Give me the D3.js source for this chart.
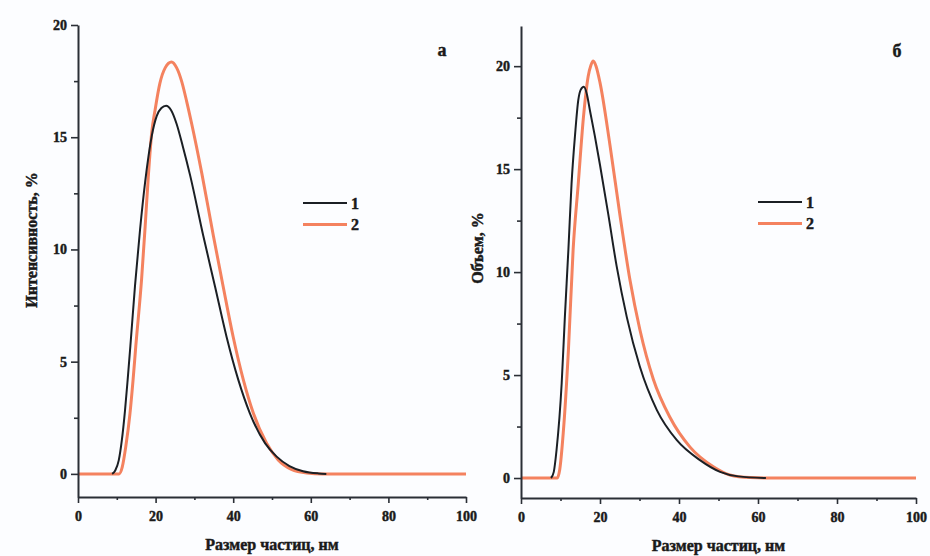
<!DOCTYPE html>
<html>
<head>
<meta charset="utf-8">
<script src="https://cdn.jsdelivr.net/npm/d3@7/dist/d3.min.js"></script>
<style>
  html, body { margin: 0; padding: 0; background: #fcfdff; }
  svg { display: block; }
  text { font-family: "Liberation Serif", "Times New Roman", serif; font-weight: bold; fill: #1a1a1a; stroke: #1a1a1a; stroke-width: 0.45px; }
</style>
</head>
<body>
<svg id="chart" width="930" height="556"></svg>
<script>
// Particle size distributions (DLS): intensity (а) and volume (б), samples 1 and 2.
const seriesNames = ["1", "2"];

// Panel а — intensity, %
const sizeA1 = [8.8, 9.6, 10.5, 11.3, 12.1, 12.8, 13.5, 14.7, 16.0, 17.3, 19.0, 20.3, 21.5, 22.7, 24.0, 25.4, 27.0, 28.9, 32.3, 35.3, 38.3, 41.3, 44.3, 48.2, 51.2, 54.5, 58.0, 62.0, 64.0];
const intensityA1 = [0, 0.15, 0.6, 1.5, 2.8, 4.2, 5.7, 8.4, 10.9, 13.0, 15.05, 15.95, 16.3, 16.4, 16.2, 15.6, 14.6, 13.3, 10.6, 8.36, 6.1, 4.2, 2.7, 1.37, 0.77, 0.35, 0.12, 0.02, 0];
const sizeA2 = [0, 10.6, 11.4, 12.3, 13.4, 14.2, 14.9, 16.4, 17.3, 18.1, 19.0, 19.9, 21.1, 22.5, 24.1, 25.4, 26.7, 28.0, 29.3, 31.9, 34.9, 37.4, 40.0, 42.6, 45.2, 48.6, 51.6, 55.0, 59.0, 63.0, 100];
const intensityA2 = [0, 0, 0.3, 1.2, 2.7, 4.2, 5.7, 8.7, 11.0, 13.2, 15.2, 16.25, 17.4, 18.1, 18.35, 18.1, 17.5, 16.6, 15.6, 13.4, 10.6, 8.36, 6.1, 4.2, 2.7, 1.37, 0.62, 0.2, 0.04, 0, 0];

// Panel б — volume, %
const sizeB1 = [7.6, 8.3, 9.0, 10.3, 11.1, 12.0, 12.8, 13.7, 14.5, 15.1, 15.9, 16.6, 17.5, 18.7, 20.0, 22.1, 24.2, 26.8, 30.1, 34.4, 39.4, 45.3, 50.4, 55.0, 62.0];
const volumeB1 = [0, 0.3, 1.36, 4.6, 7.8, 11.1, 14.3, 16.7, 18.35, 18.85, 19.0, 18.7, 17.8, 16.6, 15.2, 12.8, 10.3, 7.8, 5.4, 3.3, 1.85, 0.87, 0.3, 0.08, 0];
const sizeB2 = [0, 9.2, 9.8, 10.7, 12.0, 13.2, 14.5, 15.8, 17.0, 17.7, 18.3, 19.0, 20.0, 22.5, 25.1, 27.6, 30.1, 33.5, 37.7, 42.8, 48.7, 52.9, 58.0, 62.0, 100];
const volumeB2 = [0, 0, 0.4, 2.2, 6.2, 11.1, 14.3, 17.5, 19.5, 20.05, 20.25, 20.0, 19.2, 16.2, 12.7, 9.6, 7.2, 4.8, 2.95, 1.5, 0.55, 0.15, 0.02, 0, 0];

const xTicks = [0, 20, 40, 60, 80, 100];
const xMinorTicks = [10, 30, 50, 70, 90];
const yTicks = [0, 5, 10, 15, 20];
const yMinorTicks = [2.5, 7.5, 12.5, 17.5];

const xTitle = "Размер частиц, нм";
const colors = ["#1b1f24", "#f4825f"];

const svg = d3.select("#chart");

const panels = [
  { box: { left: 78, right: 466, top: 25, bottom: 497 }, yDomain: [-1.03, 20],
    yTitle: "Интенсивность, %", tag: "а", yTitlePos: [31, 240], tagPos: [442, 56],
    legendPos: [303, 203], tickPad: 4,
    series: [[sizeA1, intensityA1], [sizeA2, intensityA2]] },
  { box: { left: 521, right: 916, top: 26, bottom: 498 }, yDomain: [-0.97, 21.95],
    yTitle: "Объем, %", tag: "б", yTitlePos: [477, 248], tagPos: [897, 57],
    legendPos: [758, 202], tickPad: 4,
    series: [[sizeB1, volumeB1], [sizeB2, volumeB2]] }
];

panels.forEach(p => {
  const b = p.box;
  const x = d3.scaleLinear().domain([0, 100]).range([b.left, b.right]);
  const y = d3.scaleLinear().domain(p.yDomain).range([b.bottom, b.top]);
  const g = svg.append("g");

  // curves: sample 2 underneath, sample 1 on top
  const line = d3.line().x(d => x(d[0])).y(d => y(d[1])).curve(d3.curveMonotoneX);
  [1, 0].forEach(i => {
    const [xs, ys] = p.series[i];
    g.append("path")
      .datum(xs.map((v, k) => [v, ys[k]]))
      .attr("fill", "none")
      .attr("stroke", colors[i])
      .attr("stroke-width", i === 1 ? 3 : 2)
      .attr("stroke-linejoin", "round")
      .attr("d", line);
  });

  // x axis
  g.append("g").attr("transform", `translate(0,${b.bottom})`)
    .call(d3.axisBottom(x).tickValues(xTicks).tickSize(6).tickSizeOuter(0).tickPadding(8).tickFormat(d3.format("d")));
  g.append("g").attr("transform", `translate(0,${b.bottom})`)
    .call(d3.axisBottom(x).tickValues(xMinorTicks).tickSize(3).tickSizeOuter(0).tickFormat(""))
    .select(".domain").remove();

  // y axis
  g.append("g").attr("transform", `translate(${b.left},0)`)
    .call(d3.axisLeft(y).tickValues(yTicks).tickSize(7).tickSizeOuter(0).tickPadding(p.tickPad).tickFormat(d3.format("d")));
  g.append("g").attr("transform", `translate(${b.left},0)`)
    .call(d3.axisLeft(y).tickValues(yMinorTicks).tickSize(4).tickSizeOuter(0).tickFormat(""))
    .select(".domain").remove();

  g.selectAll(".domain").attr("stroke", "#2a2f36").attr("stroke-width", 2);
  g.selectAll(".tick line").attr("stroke", "#2a2f36").attr("stroke-width", 1.6);
  g.selectAll(".tick text")
    .attr("font-family", "Liberation Serif, Times New Roman, serif")
    .attr("font-weight", "bold").attr("font-size", 14).attr("fill", "#1a1a1a");

  // axis titles
  g.append("text")
    .attr("x", (b.left + b.right) / 2).attr("y", b.bottom + 53)
    .attr("text-anchor", "middle").attr("font-size", 16)
    .text(xTitle);
  g.append("text")
    .attr("transform", `translate(${p.yTitlePos[0]},${p.yTitlePos[1]}) rotate(-90)`)
    .attr("text-anchor", "middle").attr("dominant-baseline", "central").attr("font-size", 16)
    .text(p.yTitle);

  // panel letter
  g.append("text")
    .attr("x", p.tagPos[0]).attr("y", p.tagPos[1])
    .attr("text-anchor", "middle").attr("font-size", 18)
    .text(p.tag);

  // legend
  const lg = g.append("g").attr("transform", `translate(${p.legendPos[0]},${p.legendPos[1]})`);
  seriesNames.forEach((name, i) => {
    lg.append("line")
      .attr("x1", 0).attr("x2", 44).attr("y1", i * 21.5).attr("y2", i * 21.5)
      .attr("stroke", colors[i]).attr("stroke-width", i === 1 ? 3 : 2);
    lg.append("text")
      .attr("x", 48).attr("y", i * 21.5).attr("dy", "0.35em")
      .attr("font-size", 16)
      .text(name);
  });
});
</script>
</body>
</html>
